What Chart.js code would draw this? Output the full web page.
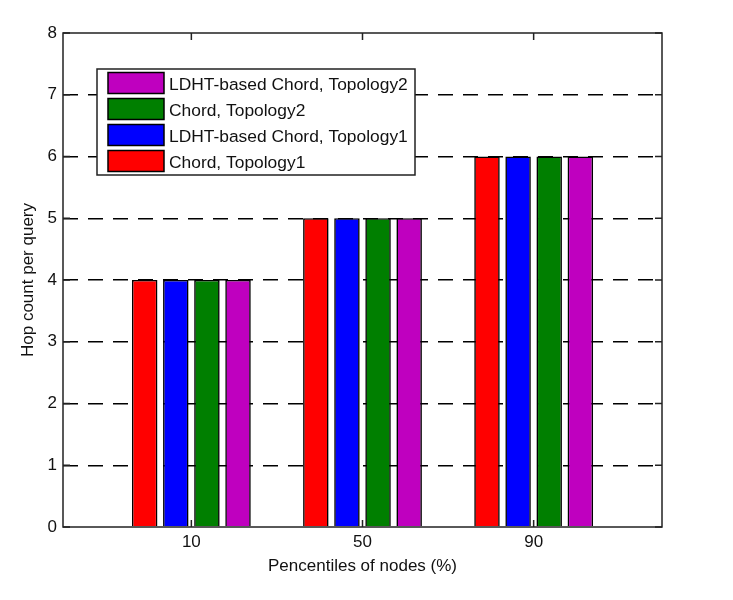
<!DOCTYPE html>
<html>
<head>
<meta charset="utf-8">
<script src="https://cdn.jsdelivr.net/npm/chart.js@4.4.1/dist/chart.umd.min.js"></script>
<style>
  body { margin: 0; background: #fff; }
  #wrap { width: 733px; height: 600px; }
</style>
</head>
<body>
<div id="wrap"><canvas id="grafica" width="733" height="600"></canvas></div>
<script>
// Datos de la figura
const percentiles = [10, 50, 90];
const posiciones = [1, 2, 3];
const chordTopo1 = [4, 5, 6];
const ldhtTopo1 = [4, 5, 6];
const chordTopo2 = [4, 5, 6];
const ldhtTopo2 = [4, 5, 6];
const yTicks = [0, 1, 2, 3, 4, 5, 6, 7, 8];

const FUENTE = '"Liberation Sans", Arial, sans-serif';

function serie(valores) {
    return valores.map((v, i) => ({ x: posiciones[i], y: v }));
}

function dataset(label, valores, color) {
    return {
        label: label,
        data: serie(valores),
        backgroundColor: color,
        borderColor: '#000',
        borderWidth: 1.6,
        categoryPercentage: 0.727,
        barPercentage: 0.82
    };
}

// Marco, marcas hacia dentro y leyenda (estilo MATLAB)
const marcoPlugin = {
    id: 'marco',
    afterDatasetsDraw(chart) {
        const { ctx, chartArea: a, scales } = chart;
        ctx.save();
        ctx.strokeStyle = '#222';
        ctx.lineWidth = 1.5;
        ctx.setLineDash([]);
        ctx.strokeRect(a.left, a.top, a.right - a.left, a.bottom - a.top);

        const largo = 7;
        ctx.beginPath();
        yTicks.forEach(v => {
            const y = scales.y.getPixelForValue(v);
            ctx.moveTo(a.left, y); ctx.lineTo(a.left + largo, y);
            ctx.moveTo(a.right, y); ctx.lineTo(a.right - largo, y);
        });
        posiciones.forEach(v => {
            const x = scales.x.getPixelForValue(v);
            ctx.moveTo(x, a.top); ctx.lineTo(x, a.top + largo);
            ctx.moveTo(x, a.bottom); ctx.lineTo(x, a.bottom - largo);
        });
        ctx.stroke();
        ctx.restore();
    },
    afterDraw(chart) {
        const ctx = chart.ctx;
        const caja = { x: 97, y: 69, w: 318, h: 106 };
        ctx.save();
        ctx.fillStyle = '#fff';
        ctx.fillRect(caja.x, caja.y, caja.w, caja.h);
        ctx.strokeStyle = '#222';
        ctx.lineWidth = 1.5;
        ctx.strokeRect(caja.x, caja.y, caja.w, caja.h);

        // leyenda en orden inverso, como en la figura original
        const items = chart.data.datasets.slice().reverse();
        ctx.font = '17.4px ' + FUENTE;
        ctx.textBaseline = 'alphabetic';
        ctx.textAlign = 'left';
        items.forEach((ds, i) => {
            const top = 72.5 + i * 26;
            ctx.fillStyle = ds.backgroundColor;
            ctx.fillRect(108, top, 56, 21);
            ctx.lineWidth = 1.5;
            ctx.strokeStyle = '#000';
            ctx.strokeRect(108, top, 56, 21);
            ctx.fillStyle = '#111';
            ctx.fillText(ds.label, 169, top + 17);
        });
        ctx.restore();
    }
};

const ctx = document.getElementById('grafica');

new Chart(ctx, {
    type: 'bar',
    data: {
        datasets: [
            dataset('Chord, Topology1', chordTopo1, '#FF0000'),
            dataset('LDHT-based Chord, Topology1', ldhtTopo1, '#0000FF'),
            dataset('Chord, Topology2', chordTopo2, '#007F00'),
            dataset('LDHT-based Chord, Topology2', ldhtTopo2, '#BF00BF')
        ]
    },
    options: {
        responsive: false,
        animation: false,
        layout: { padding: { top: 33, right: 71, bottom: 0, left: 0 } },
        plugins: {
            legend: { display: false },
            tooltip: { enabled: false }
        },
        scales: {
            x: {
                type: 'linear',
                offset: false,
                min: 0.25,
                max: 3.75,
                afterBuildTicks: (scale) => {
                    scale.ticks = posiciones.map(v => ({ value: v }));
                },
                afterFit: (scale) => { scale.height = 73; },
                grid: { display: false, drawTicks: false, offset: false },
                border: { display: false },
                ticks: {
                    padding: 5,
                    color: '#111',
                    font: { family: FUENTE, size: 17 },
                    callback: (valor) => {
                        const i = posiciones.indexOf(valor);
                        return i >= 0 ? String(percentiles[i]) : '';
                    }
                },
                title: {
                    display: true,
                    text: 'Pencentiles of nodes (%)',
                    color: '#111',
                    font: { family: FUENTE, size: 17 },
                    padding: 23
                }
            },
            y: {
                min: 0,
                max: 8,
                afterFit: (scale) => { scale.width = 63; },
                grid: {
                    drawTicks: false,
                    lineWidth: 1.5,
                    color: (c) => (c.tick && c.tick.value > 0 && c.tick.value < 8) ? '#000' : 'rgba(0,0,0,0)'
                },
                border: { display: false, dash: [15, 10] },
                ticks: {
                    stepSize: 1,
                    padding: 6,
                    color: '#111',
                    font: { family: FUENTE, size: 17 }
                },
                title: {
                    display: true,
                    text: 'Hop count per query',
                    color: '#111',
                    font: { family: FUENTE, size: 17 },
                    padding: 18
                }
            }
        }
    },
    plugins: [marcoPlugin]
});
</script>
</body>
</html>
